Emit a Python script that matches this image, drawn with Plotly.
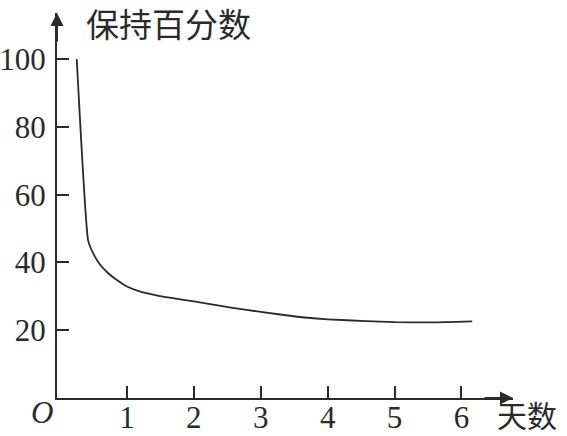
import plotly.graph_objects as go

days = [0.25, 0.42, 0.5, 0.6, 0.72, 0.85, 1.0, 1.2, 1.44, 1.64, 2.0, 2.58, 3.0, 3.58, 4.0, 4.58, 5.0, 5.57, 6.16]
retention = [100, 46.5, 42.5, 39.3, 36.8, 34.8, 32.9, 31.4, 30.3, 29.6, 28.5, 26.6, 25.4, 23.9, 23.2, 22.7, 22.4, 22.3, 22.6]
x_ticks = [1, 2, 3, 4, 5, 6]
y_ticks = [20, 40, 60, 80, 100]
y_title = "保持百分数"
x_title = "天数"

W, H = 567, 436
ML, MR, MT, MB = 57, 54, 13, 38
PW, PH = W - ML - MR, H - MT - MB
ink = "#2a2a2a"
serif = "Liberation Serif"
cjk = "Noto Sans CJK SC"


def px(xs):
    return (xs - ML) / PW


def py(ys):
    return (H - MB - ys) / PH


fig = go.Figure()
fig.add_trace(go.Scatter(x=days, y=retention, mode="lines",
                         line=dict(color=ink, width=1.8, shape="spline", smoothing=0.4),
                         hoverinfo="skip", showlegend=False))

axis_common = dict(showgrid=False, zeroline=False, showline=True, linecolor=ink, linewidth=2,
                   ticks="inside", ticklen=12, tickwidth=1.8, tickcolor=ink, automargin=False,
                   tickfont=dict(family=serif, size=31, color=ink), fixedrange=True)

fig.update_layout(
    width=W, height=H, margin=dict(l=ML, r=MR, t=MT, b=MB, autoexpand=False),
    paper_bgcolor="white", plot_bgcolor="white", showlegend=False,
    xaxis=dict(range=[-0.045, 6.77], tickvals=x_ticks, ticktext=[str(v) for v in x_ticks],
               ticklabelstandoff=-9, **axis_common),
    yaxis=dict(range=[0, 113.6], tickvals=y_ticks, ticktext=[str(v) for v in y_ticks],
               ticklabelstandoff=3, **axis_common),
    annotations=[
        dict(xref="paper", yref="paper", x=0, y=1, ax=0, ay=30, axref="pixel", ayref="pixel",
             showarrow=True, arrowhead=2, arrowsize=1.3, arrowwidth=2, arrowcolor=ink, text=""),
        dict(xref="paper", yref="paper", x=1, y=0, ax=-30, ay=0, axref="pixel", ayref="pixel",
             showarrow=True, arrowhead=2, arrowsize=1.3, arrowwidth=2, arrowcolor=ink, text=""),
        dict(xref="paper", yref="paper", x=px(84), y=py(23),
             xanchor="left", yanchor="middle", text=y_title, showarrow=False,
             font=dict(family=cjk, size=33, color=ink)),
        dict(xref="paper", yref="paper", x=px(495), y=py(414),
             xanchor="left", yanchor="middle", text=x_title, showarrow=False,
             font=dict(family=cjk, size=30, color=ink)),
        dict(xref="paper", yref="paper", x=px(42), y=py(413),
             xanchor="center", yanchor="middle", text="<i>O</i>", showarrow=False,
             font=dict(family=serif, size=31, color=ink)),
    ],
)

fig.write_html("out.html", config={"displayModeBar": False},
               post_script="document.body.style.margin='0';document.body.style.overflow='hidden';")
